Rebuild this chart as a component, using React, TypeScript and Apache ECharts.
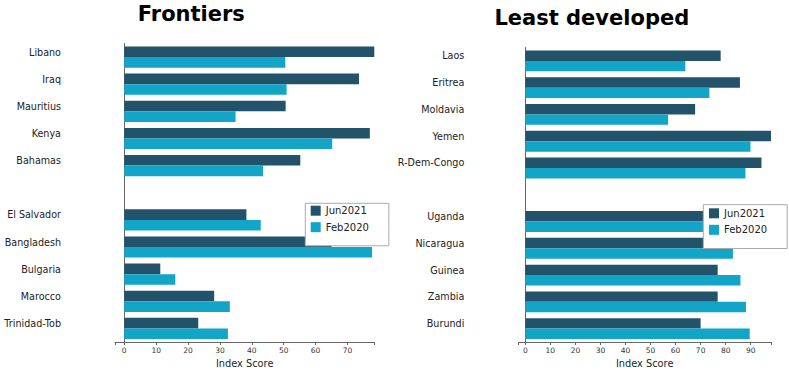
import React, { useEffect, useRef } from "react";
import * as echarts from "echarts";

const frontierCats = ["Libano", "Iraq", "Mauritius", "Kenya", "Bahamas", "", "El Salvador", "Bangladesh", "Bulgaria", "Marocco", "Trinidad-Tob"];
const frontierJun2021 = [78.4, 73.6, 50.6, 77.0, 55.2, null, 38.3, 65.0, 11.3, 28.2, 23.2];
const frontierFeb2020 = [50.5, 50.9, 34.9, 65.2, 43.5, null, 42.8, 77.7, 16.0, 33.1, 32.5];

const ldcCats = ["Laos", "Eritrea", "Moldavia", "Yemen", "R-Dem-Congo", "", "Uganda", "Nicaragua", "Guinea", "Zambia", "Burundi"];
const ldcJun2021 = [78.0, 85.7, 67.8, 98.1, 94.3, null, 80.0, 78.0, 76.8, 76.8, 70.0];
const ldcFeb2020 = [63.9, 73.5, 57.0, 89.9, 87.9, null, 82.0, 82.9, 85.9, 88.1, 89.6];

const frontierTicks = [0, 10, 20, 30, 40, 50, 60, 70];
const ldcTicks = [0, 10, 20, 30, 40, 50, 60, 70, 80, 90];
const frontierRange = [-2.9, 78.4];
const ldcRange = [-2.8, 98.1];

const titles = ["Frontiers", "Least developed"];
const seriesNames = ["Jun2021", "Feb2020"];

const DARK = "#23536a";
const LIGHT = "#13a5c7";
const FONT = "DejaVu Sans";

export default function App() {
  const ref = useRef<HTMLDivElement>(null);
  useEffect(() => {
    if (!ref.current) return;
    const chart = echarts.init(ref.current, null, { renderer: "svg" });
    const xAxisBase = (range: number[], ticks: number[], gridIndex: number) => ({
      type: "value",
      gridIndex,
      min: range[0],
      max: range[1],
      splitLine: { show: false },
      axisLine: { show: true, onZero: false, lineStyle: { color: "#666", width: 1 } },
      axisTick: { show: true, length: 3, lineStyle: { color: "#666" }, customValues: [range[0], ...ticks, range[1]] },
      axisLabel: { customValues: ticks, fontSize: 7.5, color: "#333", margin: 4, fontFamily: FONT },
      name: "Index Score",
      nameLocation: "middle",
      nameGap: 14,
      nameTextStyle: { fontSize: 9.8, color: "#222", fontFamily: FONT },
    });
    const yAxisBase = (cats: string[], gridIndex: number, margin: number) => ({
      type: "category",
      gridIndex,
      data: cats,
      inverse: true,
      axisLine: { show: true, onZero: true, lineStyle: { color: "#666", width: 1 } },
      axisTick: { show: false },
      axisLabel: { fontSize: 9.6, color: "#222", margin, fontFamily: FONT, verticalAlign: "bottom" },
    });
    const barBase = { type: "bar", barGap: "0%", barCategoryGap: "22%" };
    const legendBase = (left: number, top: number, padding: number[]) => ({
      left,
      top,
      orient: "vertical",
      data: seriesNames,
      itemWidth: 10,
      itemHeight: 10,
      itemGap: 6.5,
      padding,
      borderColor: "#aaa",
      borderWidth: 1,
      backgroundColor: "#fff",
      icon: "rect",
      textStyle: { fontSize: 10, color: "#222", fontFamily: FONT, lineHeight: 10 },
    });
    chart.setOption({
      animation: false,
      textStyle: { fontFamily: FONT },
      graphic: [
        { type: "text", x: 191.3, y: 13.5, style: { text: titles[0], font: `bold 21px ${FONT}`, fill: "#000", align: "center", verticalAlign: "middle" } },
        { type: "text", x: 591.8, y: 18, style: { text: titles[1], font: `bold 21px ${FONT}`, fill: "#000", align: "center", verticalAlign: "middle" } },
      ],
      grid: [
        { left: 115, right: 789 - 374.3, top: 43.5, bottom: 31, outerBoundsMode: "none", containLabel: false },
        { left: 518.3, right: 789 - 771, top: 47.5, bottom: 31, outerBoundsMode: "none", containLabel: false },
      ],
      xAxis: [xAxisBase(frontierRange, frontierTicks, 0), xAxisBase(ldcRange, ldcTicks, 1)],
      yAxis: [yAxisBase(frontierCats, 0, 54), yAxisBase(ldcCats, 1, 54)],
      legend: [legendBase(305.3, 203.3, [2.4, 20, 13.6, 5.4]), legendBase(703.3, 204.7, [3.6, 20, 13.7, 5.7])],
      series: [
        { ...barBase, name: seriesNames[0], xAxisIndex: 0, yAxisIndex: 0, data: frontierJun2021, itemStyle: { color: DARK }, z: 2 },
        { ...barBase, name: seriesNames[1], xAxisIndex: 0, yAxisIndex: 0, data: frontierFeb2020, itemStyle: { color: LIGHT }, z: 2 },
        { ...barBase, name: seriesNames[0], xAxisIndex: 1, yAxisIndex: 1, data: ldcJun2021, itemStyle: { color: DARK }, z: 2 },
        { ...barBase, name: seriesNames[1], xAxisIndex: 1, yAxisIndex: 1, data: ldcFeb2020, itemStyle: { color: LIGHT }, z: 2 },
      ],
    });
    return () => chart.dispose();
  }, []);
  return <div ref={ref} style={{ position: "fixed", left: 0, top: 0, width: 789, height: 373, background: "#fff" }} />;
}
